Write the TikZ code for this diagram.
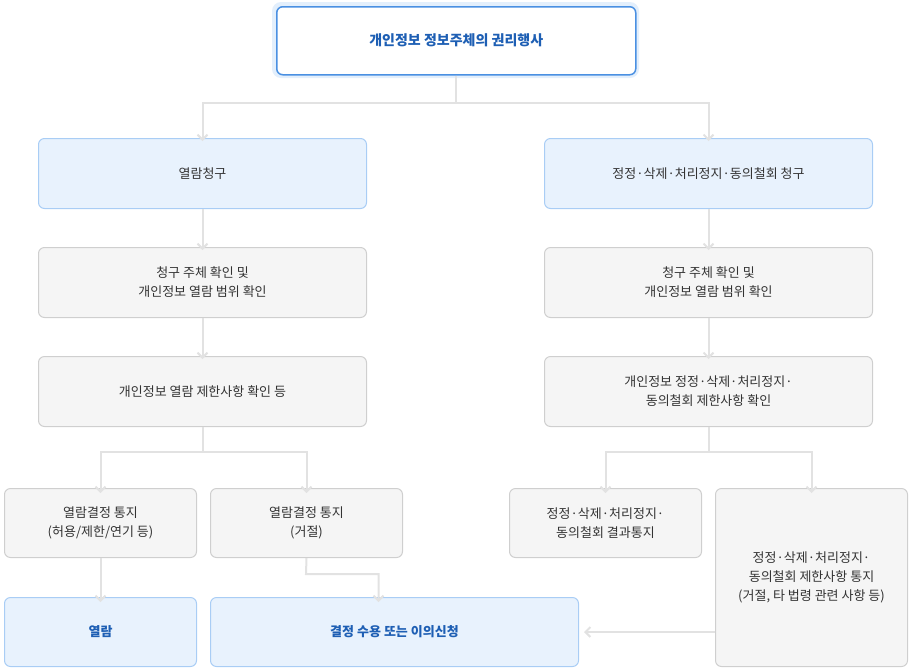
\documentclass[tikz,border=0pt]{standalone}
\usepackage{fontspec}
\setmainfont{Noto Sans CJK KR}
\usetikzlibrary{arrows.meta}
\definecolor{lb}{HTML}{E8F2FD}
\definecolor{lbd}{HTML}{A9CDF5}
\definecolor{tb}{HTML}{4A90E2}
\definecolor{tg}{HTML}{E3EFFC}
\definecolor{gf}{HTML}{F5F5F5}
\definecolor{gd}{HTML}{CFCFCF}
\definecolor{ln}{HTML}{E2E2E2}
\definecolor{bt}{HTML}{1E5FB4}
\definecolor{tx}{HTML}{333333}
\tikzset{
 bx/.style={draw=gd,fill=gf,line width=1pt,rounded corners=6pt,align=center,text=tx,font=\fontsize{13}{19}\selectfont,anchor=north west,inner sep=0pt},
 bl/.style={bx,draw=lbd,fill=lb},
 bb/.style={bl,text=bt,font=\fontsize{13}{19}\selectfont\bfseries},
 cn/.style={draw=ln,line width=2pt,-{Straight Barb[length=5pt,width=10pt,line width=2pt]}},
 pl/.style={draw=ln,line width=2pt}
}
\begin{document}
\begin{tikzpicture}[x=1pt,y=-1pt]
\useasboundingbox (0,0) rectangle (909,670);
\fill[tg,rounded corners=9pt] (272,2) rectangle (639,78);
\node[bx,draw=tb,fill=white,text=bt,font=\fontsize{14}{19}\selectfont\bfseries,minimum width=359pt,minimum height=68pt,line width=1.5pt] (top) at (276,6) {개인정보 정보주체의 권리행사};
\node[bl,minimum width=328pt,minimum height=70pt] (l1) at (38,138) {열람청구};
\node[bl,minimum width=328pt,minimum height=70pt] (r1) at (544,138) {정정·삭제·처리정지·동의철회 청구};
\node[bx,minimum width=328pt,minimum height=70pt] (l2) at (38,247) {청구 주체 확인 및\\개인정보 열람 범위 확인};
\node[bx,minimum width=328pt,minimum height=70pt] (r2) at (544,247) {청구 주체 확인 및\\개인정보 열람 범위 확인};
\node[bx,minimum width=328pt,minimum height=70pt] (l3) at (38,356) {개인정보 열람 제한사항 확인 등};
\node[bx,minimum width=328pt,minimum height=70pt] (r3) at (544,356) {개인정보 정정·삭제·처리정지·\\동의철회 제한사항 확인};
\node[bx,minimum width=192pt,minimum height=69pt] (l4a) at (4,488) {열람결정 통지\\(허용/제한/연기 등)};
\node[bx,minimum width=192pt,minimum height=69pt] (l4b) at (210,488) {열람결정 통지\\(거절)};
\node[bx,minimum width=192pt,minimum height=69pt] (r4a) at (509,488) {정정·삭제·처리정지·\\동의철회 결과통지};
\node[bx,minimum width=192pt,minimum height=178pt] (r4b) at (715,488) {정정·삭제·처리정지·\\동의철회 제한사항 통지\\(거절, 타 법령 관련 사항 등)};
\node[bb,minimum width=192pt,minimum height=69pt] (l5) at (4,597) {열람};
\node[bb,minimum width=368pt,minimum height=69pt] (m5) at (210,597) {결정 수용 또는 이의신청};
% connectors
\coordinate (tj) at (455,103);
\draw[pl] (top.south) -- (top.south |- tj);
\draw[cn] (tj) -| ([yshift=-3pt]l1.north);
\draw[cn] (tj) -| ([yshift=-3pt]r1.north);
\draw[cn] (l1.south) -- ([yshift=-3pt]l2.north);
\draw[cn] (r1.south) -- ([yshift=-3pt]r2.north);
\draw[cn] (l2.south) -- ([yshift=-3pt]l3.north);
\draw[cn] (r2.south) -- ([yshift=-3pt]r3.north);
\coordinate (lj) at (203,452);
\draw[pl] (l3.south) -- (l3.south |- lj);
\draw[cn] (lj) -| ([yshift=-5pt]l4a.north);
\draw[cn] (lj) -| ([yshift=-5pt]l4b.north);
\coordinate (rj) at (708,452);
\draw[pl] (r3.south) -- (r3.south |- rj);
\draw[cn] (rj) -| ([yshift=-5pt]r4a.north);
\draw[cn] (rj) -| ([yshift=-5pt]r4b.north);
\draw[cn] (l4a.south) -- ([yshift=-5pt]l5.north);
\coordinate (bj) at (306,574);
\draw[cn] (l4b.south) -- (bj) -| ([yshift=-5pt,xshift=-16pt]m5.north);
\draw[cn] (r4b.west |- 0,632) -- ([xshift=5pt]m5.east |- 0,632);
\end{tikzpicture}
\end{document}
